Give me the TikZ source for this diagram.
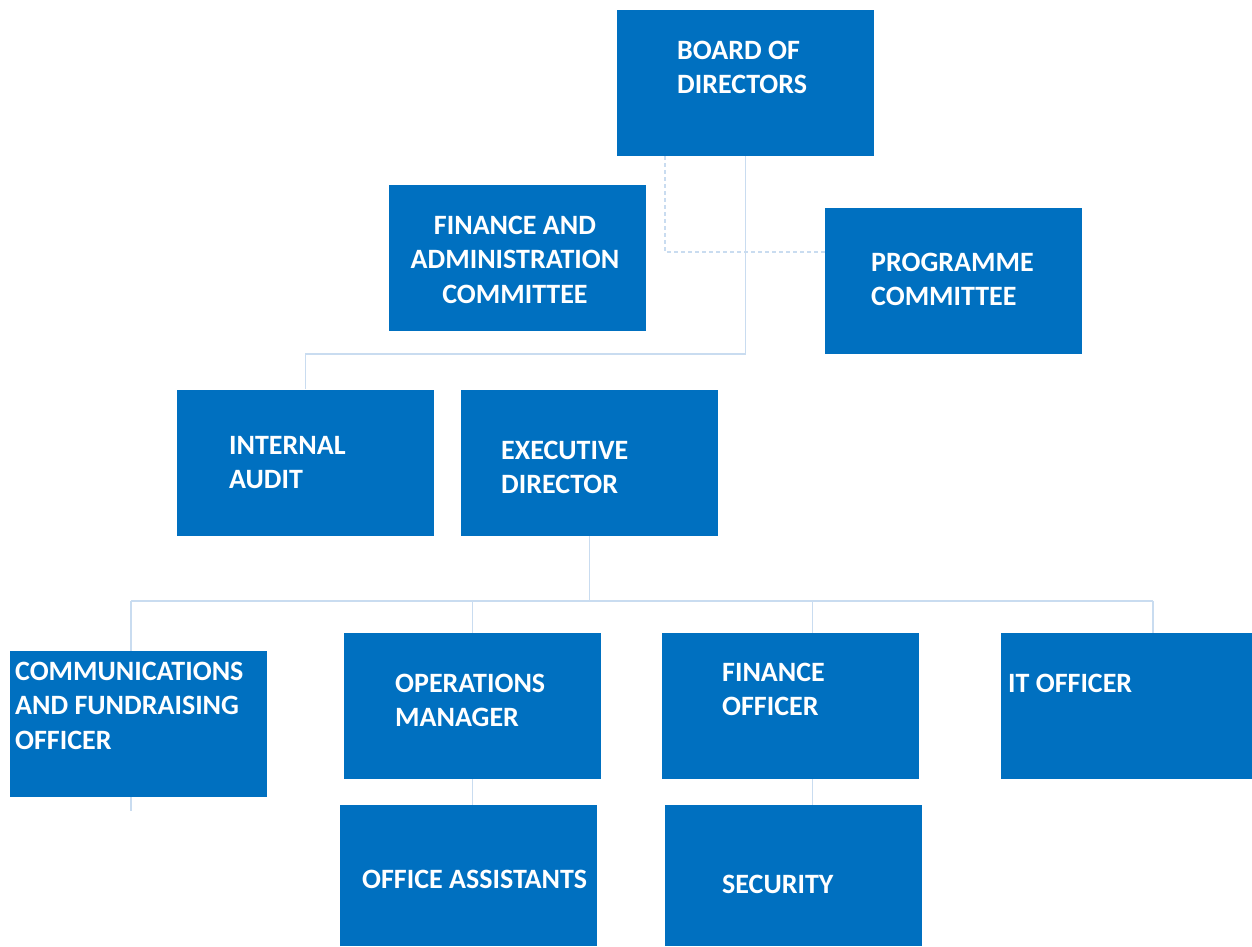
\documentclass[tikz,border=0pt]{standalone}
\usepackage{fontspec}
\setmainfont{Carlito}
\usetikzlibrary{backgrounds}

\definecolor{boxblue}{HTML}{0070C0}
\definecolor{linkblue}{HTML}{C9DCF0}

\begin{document}
\begin{tikzpicture}
  [x=1pt,y=-1pt,
   unit/.style={rectangle,fill=boxblue,minimum width=257pt,minimum height=146pt,inner sep=0pt},
   title/.style={anchor=base west,text=white,align=left,inner sep=0pt,
                 font=\fontsize{28}{34.5}\selectfont\bfseries},
   link/.style={draw=linkblue,line width=1.5pt}]
  \useasboundingbox (0,0) rectangle (1252,946);

  % boxes
  \node[unit] (bod) at (745.5,83)    {};
  \node[unit] (fac) at (517.5,257.5) {};
  \node[unit] (pc)  at (953.5,281)   {};
  \node[unit] (ia)  at (305.5,462.5) {};
  \node[unit] (ed)  at (589.5,462.5) {};
  \node[unit] (cfo) at (138.5,724)   {};
  \node[unit] (om)  at (472.5,706)   {};
  \node[unit] (fo)  at (790.5,706)   {};
  \node[unit,minimum width=251pt] (it) at (1126.5,706) {};
  \node[unit,minimum height=141pt] (oa)  at (468.5,875.5) {};
  \node[unit,minimum height=141pt] (sec) at (793.5,875.5) {};

  % titles (placed at the baseline of their last line)
  \node[title] (bod-t) at (677,93.5)  {BOARD OF\\DIRECTORS};
  \node[title,anchor=base,align=center] (fac-t) at (515,303) {FINANCE AND\\ADMINISTRATION\\COMMITTEE};
  \node[title] (pc-t)  at (871,305.5) {PROGRAMME\\COMMITTEE};
  \node[title] (ia-t)  at (229,488.5) {INTERNAL\\AUDIT};
  \node[title] (ed-t)  at (501,493.5) {EXECUTIVE\\DIRECTOR};
  \node[title] (cfo-t) at (15,749)    {COMMUNICATIONS\\AND FUNDRAISING\\OFFICER};
  \node[title] (om-t)  at (395,726.5) {OPERATIONS\\MANAGER};
  \node[title] (fo-t)  at (722,715.5) {FINANCE\\OFFICER};
  \node[title] (it-t)  at (1008,692)  {IT OFFICER};
  \node[title] (oa-t)  at (362,888)   {OFFICE ASSISTANTS};
  \node[title] (sec-t) at (722,893)   {SECURITY};

  % connectors behind the boxes
  \begin{scope}[on background layer]
    \draw[link,dash pattern=on 4pt off 3pt] ([xshift=-80.5]bod.south) |- ([yshift=29pt]pc.west);
    \draw[link] (bod.south) -- ++(0,198) -| (ia.north);

    \coordinate (busL) at (131,601);
    \coordinate (busR) at (1153,601);
    \draw[link] (busL) -- (busR);
    \draw[link] (ed.south) -- (ed.south |- busL);
    \draw[link] (busL) -- ++(0,210);
    \draw[link] (busR) -- (busR |- it.north);
    \draw[link] (om.north) -- (om.north |- busL);
    \draw[link] ([xshift=22]fo.north) -- ++(0,-32);

    \draw[link] (om.south) -- (om.south |- oa.north);
    \draw[link] ([xshift=22]fo.south) -- ([xshift=19]sec.north);
  \end{scope}

\end{tikzpicture}
\end{document}
